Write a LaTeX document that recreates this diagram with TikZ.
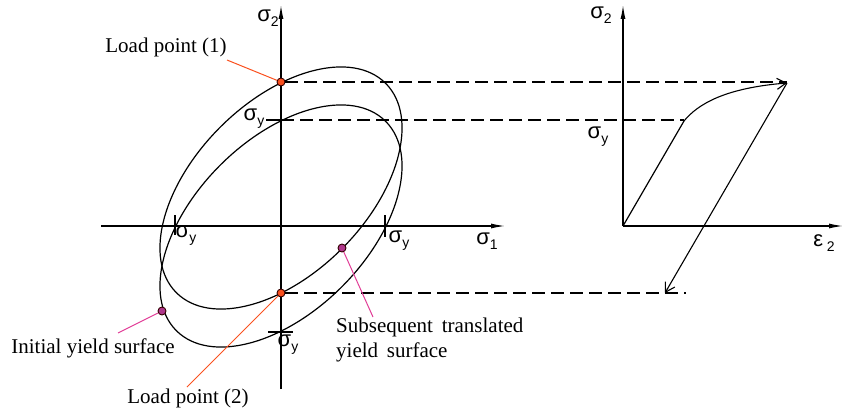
\documentclass[tikz,border=0pt]{standalone}
\usepackage{fontspec}
\setmainfont{Liberation Serif}
\newfontfamily\lsans{Liberation Sans}
\usetikzlibrary{arrows.meta}
\definecolor{lpOrange}{RGB}{250,80,30}
\definecolor{lpMag}{RGB}{225,60,150}
\definecolor{dotMag}{RGB}{175,55,140}
\tikzset{
  axisline/.style={line width=1.2pt,-{Latex[length=14pt,width=5pt]}},
  curveline/.style={line width=1.2pt},
  dashline/.style={line width=1.1pt,dash pattern=on 13pt off 6pt},
  tickline/.style={line width=1.2pt},
  txt/.style={font=\fontsize{21}{24}\selectfont, inner sep=0pt},
  sig/.style={font=\lsans\fontsize{22}{24}\selectfont, inner sep=0pt},
  leadO/.style={lpOrange,line width=1pt},
  leadM/.style={lpMag,line width=1pt},
  dotO/.style={circle,fill=lpOrange,draw=black!80!red,line width=0.9pt,minimum size=8pt,inner sep=0pt},
  dotM/.style={circle,fill=dotMag,draw=black!80!red,line width=0.9pt,minimum size=8pt,inner sep=0pt},
  openarrow/.style={line width=1.1pt,-{Straight Barb[length=9pt,width=11pt]}}
}
\newcommand{\sgm}[1]{σ\raisebox{-0.22em}{\fontsize{14}{14}\selectfont #1}}
\begin{document}
\begin{tikzpicture}[x=1pt,y=1pt]
\useasboundingbox (0,0) rectangle (844,416);
% ---------- left diagram axes ----------
\coordinate (vb) at (281,27);
\coordinate (vt) at (281,411);
\coordinate (hl) at (101,190);
\coordinate (hr) at (505,190);
\draw[axisline] (vb) -- (vt);
\draw[axisline] (hl) -- (hr);
% ticks
\coordinate (tl1) at (175,201); \coordinate (tl2) at (175,181);
\coordinate (tr1) at (385,201); \coordinate (tr2) at (385,179);
\coordinate (tb1) at (268,84);  \coordinate (tb2) at (293,84);
\coordinate (tt1) at (266,296); \coordinate (tt2) at (281,296);
\draw[tickline] (tl1) -- (tl2);
\draw[tickline] (tr1) -- (tr2);
\draw[tickline] (tb1) -- (tb2);
\draw[tickline] (tt1) -- (tt2);
% ellipses
\draw[curveline, rotate around={45:(281,190)}] (281,190) ellipse [x radius=148, y radius=86];
\draw[curveline, rotate around={45:(281,228)}] (281,228) ellipse [x radius=148, y radius=86];
% ---------- right diagram ----------
\coordinate (ro) at (623,190);
\coordinate (rt) at (623,411);
\coordinate (rr) at (843,190);
\draw[axisline] (ro) -- (rt);
\draw[axisline] (ro) -- (rr);
\coordinate (yp) at (684,295);
\coordinate (pk) at (787,333);
\coordinate (ul) at (665,123);
\draw[curveline] (ro) -- (yp);
\draw[openarrow] (yp) .. controls (698,312) and (725,328) .. (pk);
\draw[openarrow] (pk) -- (ul);
% ---------- points ----------
\node[dotO] (lp1) at (281,334) {};
\node[dotO] (lp2) at (281,123) {};
\node[dotM] (ms) at (342,168) {};
\node[dotM] (mi) at (162,105) {};
% dashed lines
\coordinate (d1e) at (787,334);
\coordinate (d2s) at (281,296);
\coordinate (d2e) at (684,296);
\coordinate (d3e) at (686,123);
\draw[dashline] (lp1.east) -- (d1e);
\draw[dashline] (d2s) -- (d2e);
\draw[dashline] (lp2.east) -- (d3e);
% ---------- labels ----------
\node[sig] (s2l) at (268,398) {\sgm{2}};
\node[sig] (syt) at (254,297) {\sgm{y}};
\node[sig] (syl) at (186,180) {\sgm{y}};
\node[sig] (syr) at (399,175) {\sgm{y}};
\node[sig] (syb) at (288,71) {\sgm{y}};
\node[sig] (s1) at (487,175) {\sgm{1}};
\node[sig] (s2r) at (601,401) {\sgm{2}};
\node[sig] (syr2) at (598,279) {\sgm{y}};
\node[sig] (e2) at (824,173) {ε\,\raisebox{-0.22em}{\fontsize{14}{14}\selectfont 2}};
\node[txt] (t1) at (166,369) {Load point (1)};
\node[txt] (t2) at (188,18) {Load point (2)};
\node[txt] (ti) at (93,68) {Initial yield surface};
\node[txt,anchor=west] (ts1) at (336,89) {Subsequent\, translated};
\node[txt,anchor=west] (ts2) at (336,64) {yield\, surface};
% leaders
\coordinate (l1s) at (227,356);
\coordinate (l2s) at (187,29);
\coordinate (lis) at (118,83);
\coordinate (lss) at (373,99);
\draw[leadO] (l1s) -- (lp1);
\draw[leadO] (l2s) -- (lp2);
\draw[leadM] (lis) -- (mi);
\draw[leadM] (lss) -- (ms);
\end{tikzpicture}
\end{document}
